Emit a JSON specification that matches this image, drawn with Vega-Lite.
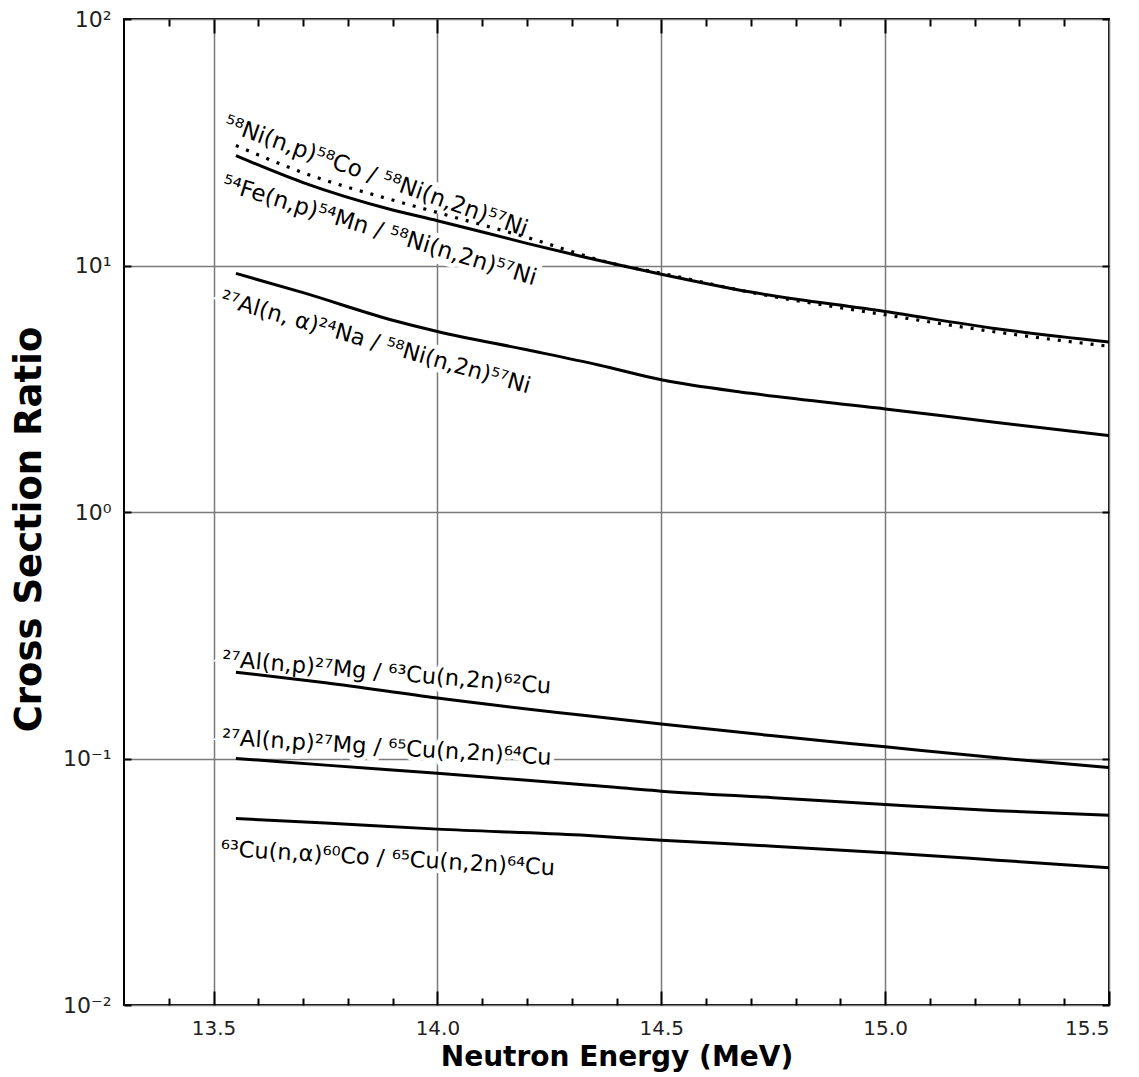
{
  "$schema": "https://vega.github.io/schema/vega-lite/v6.json",
  "autosize": "none",
  "width": 985,
  "height": 986,
  "padding": {"left": 124, "top": 19, "right": 30, "bottom": 72},
  "background": "white",
  "config": {
    "view": {"stroke": "black", "strokeWidth": 2},
    "font": "DejaVu Sans",
    "axis": {"labelFont": "DejaVu Sans", "titleFont": "DejaVu Sans", "labelColor": "#222", "titleColor": "black"}
  },
  "datasets": {
    "curves": [
      {"series": "fe", "energy": 13.55, "ratio": 27.9},
      {"series": "fe", "energy": 13.7, "ratio": 21.7},
      {"series": "fe", "energy": 13.9, "ratio": 16.8},
      {"series": "fe", "energy": 14.0, "ratio": 15.2},
      {"series": "fe", "energy": 14.2, "ratio": 12.3},
      {"series": "fe", "energy": 14.32, "ratio": 10.9},
      {"series": "fe", "energy": 14.5, "ratio": 9.22},
      {"series": "fe", "energy": 14.7, "ratio": 7.8},
      {"series": "fe", "energy": 15.0, "ratio": 6.51},
      {"series": "fe", "energy": 15.24, "ratio": 5.57},
      {"series": "fe", "energy": 15.5, "ratio": 4.89},
      {"series": "ni", "energy": 13.55, "ratio": 30.7},
      {"series": "ni", "energy": 13.7, "ratio": 23.8},
      {"series": "ni", "energy": 13.92, "ratio": 18.0},
      {"series": "ni", "energy": 14.0, "ratio": 16.4},
      {"series": "ni", "energy": 14.2, "ratio": 13.0},
      {"series": "ni", "energy": 14.4, "ratio": 10.1},
      {"series": "ni", "energy": 14.5, "ratio": 9.3},
      {"series": "ni", "energy": 14.7, "ratio": 7.78},
      {"series": "ni", "energy": 15.0, "ratio": 6.31},
      {"series": "ni", "energy": 15.24, "ratio": 5.4},
      {"series": "ni", "energy": 15.5, "ratio": 4.7},
      {"series": "alna", "energy": 13.55, "ratio": 9.29},
      {"series": "alna", "energy": 13.7, "ratio": 7.76},
      {"series": "alna", "energy": 13.9, "ratio": 6.0},
      {"series": "alna", "energy": 14.0, "ratio": 5.4},
      {"series": "alna", "energy": 14.2, "ratio": 4.55},
      {"series": "alna", "energy": 14.36, "ratio": 3.95},
      {"series": "alna", "energy": 14.5, "ratio": 3.44},
      {"series": "alna", "energy": 14.7, "ratio": 3.03},
      {"series": "alna", "energy": 15.0, "ratio": 2.62},
      {"series": "alna", "energy": 15.24, "ratio": 2.32},
      {"series": "alna", "energy": 15.5, "ratio": 2.04},
      {"series": "cu62", "energy": 13.55, "ratio": 0.224},
      {"series": "cu62", "energy": 13.75, "ratio": 0.203},
      {"series": "cu62", "energy": 14.0, "ratio": 0.176},
      {"series": "cu62", "energy": 14.32, "ratio": 0.15},
      {"series": "cu62", "energy": 14.5, "ratio": 0.138},
      {"series": "cu62", "energy": 14.75, "ratio": 0.1236},
      {"series": "cu62", "energy": 15.0, "ratio": 0.1115},
      {"series": "cu62", "energy": 15.25, "ratio": 0.1006},
      {"series": "cu62", "energy": 15.5, "ratio": 0.092},
      {"series": "cu64", "energy": 13.55, "ratio": 0.1},
      {"series": "cu64", "energy": 13.75, "ratio": 0.094},
      {"series": "cu64", "energy": 14.0, "ratio": 0.0871},
      {"series": "cu64", "energy": 14.32, "ratio": 0.0785},
      {"series": "cu64", "energy": 14.5, "ratio": 0.0737},
      {"series": "cu64", "energy": 14.75, "ratio": 0.0693},
      {"series": "cu64", "energy": 15.0, "ratio": 0.0651},
      {"series": "cu64", "energy": 15.25, "ratio": 0.0614},
      {"series": "cu64", "energy": 15.5, "ratio": 0.0589},
      {"series": "cuco", "energy": 13.55, "ratio": 0.0571},
      {"series": "cuco", "energy": 13.75, "ratio": 0.0547},
      {"series": "cuco", "energy": 14.0, "ratio": 0.0517},
      {"series": "cuco", "energy": 14.32, "ratio": 0.0489},
      {"series": "cuco", "energy": 14.5, "ratio": 0.0466},
      {"series": "cuco", "energy": 14.75, "ratio": 0.0441},
      {"series": "cuco", "energy": 15.0, "ratio": 0.0415},
      {"series": "cuco", "energy": 15.25, "ratio": 0.0387},
      {"series": "cuco", "energy": 15.5, "ratio": 0.036}
    ],
    "labels": [
      {"id": "L1", "text": "⁵⁸Ni(n,p)⁵⁸Co / ⁵⁸Ni(n,2n)⁵⁷Ni", "energy": 13.52, "ratio": 35.6},
      {"id": "L2", "text": "⁵⁴Fe(n,p)⁵⁴Mn / ⁵⁸Ni(n,2n)⁵⁷Ni", "energy": 13.516, "ratio": 20.3},
      {"id": "L3", "text": "²⁷Al(n, α)²⁴Na / ⁵⁸Ni(n,2n)⁵⁷Ni", "energy": 13.513, "ratio": 6.91},
      {"id": "L4", "text": "²⁷Al(n,p)²⁷Mg / ⁶³Cu(n,2n)⁶²Cu", "energy": 13.518, "ratio": 0.237},
      {"id": "L5", "text": "²⁷Al(n,p)²⁷Mg / ⁶⁵Cu(n,2n)⁶⁴Cu", "energy": 13.518, "ratio": 0.1138},
      {"id": "L6", "text": "⁶³Cu(n,α)⁶⁰Co / ⁶⁵Cu(n,2n)⁶⁴Cu", "energy": 13.515, "ratio": 0.0402}
    ]
  },
  "layer": [
    {
      "data": {"name": "labels"},
      "transform": [{"filter": "datum.id == 'L1'"}],
      "mark": {"type": "text", "align": "left", "baseline": "alphabetic", "angle": 19.5, "fontSize": 23, "font": "DejaVu Sans", "color": "white", "stroke": "white", "strokeWidth": 9},
      "encoding": {
        "x": {"field": "energy", "type": "quantitative", "scale": {"domain": [13.3, 15.5], "nice": false, "zero": false},
          "axis": {"orient": "top", "values": [13.4,13.5,13.6,13.7,13.8,13.9,14.0,14.1,14.2,14.3,14.4,14.5,14.6,14.7,14.8,14.9,15.0,15.1,15.2,15.3,15.4],
            "labels": false, "title": null, "grid": false, "domain": false, "tickColor": "black", "tickWidth": 2,
            "tickSize": {"condition": {"test": "abs(datum.value*2 - round(datum.value*2)) < 0.01", "value": -14}, "value": -7}}},
        "y": {"field": "ratio", "type": "quantitative", "scale": {"type": "log", "domain": [0.01, 100], "nice": false},
          "axis": {"orient": "right", "values": [0.01, 0.1, 1, 10, 100], "labels": false, "title": null, "grid": false, "domain": false, "tickColor": "black", "tickWidth": 2, "tickSize": -7}},
        "text": {"field": "text"}
      }
    },
    {
      "data": {"name": "labels"},
      "transform": [{"filter": "datum.id == 'L2'"}],
      "mark": {"type": "text", "align": "left", "baseline": "alphabetic", "angle": 17, "fontSize": 23, "font": "DejaVu Sans", "color": "white", "stroke": "white", "strokeWidth": 9},
      "encoding": {"x": {"field": "energy", "type": "quantitative", "axis": null}, "y": {"field": "ratio", "type": "quantitative", "axis": null}, "text": {"field": "text"}}
    },
    {
      "data": {"name": "labels"},
      "transform": [{"filter": "datum.id == 'L3'"}],
      "mark": {"type": "text", "align": "left", "baseline": "alphabetic", "angle": 16, "fontSize": 22.5, "font": "DejaVu Sans", "color": "white", "stroke": "white", "strokeWidth": 9},
      "encoding": {"x": {"field": "energy", "type": "quantitative", "axis": null}, "y": {"field": "ratio", "type": "quantitative", "axis": null}, "text": {"field": "text"}}
    },
    {
      "data": {"name": "labels"},
      "transform": [{"filter": "datum.id == 'L4'"}],
      "mark": {"type": "text", "align": "left", "baseline": "alphabetic", "angle": 4.8, "fontSize": 22.5, "font": "DejaVu Sans", "color": "white", "stroke": "white", "strokeWidth": 9},
      "encoding": {"x": {"field": "energy", "type": "quantitative", "axis": null}, "y": {"field": "ratio", "type": "quantitative", "axis": null}, "text": {"field": "text"}}
    },
    {
      "data": {"name": "labels"},
      "transform": [{"filter": "datum.id == 'L5'"}],
      "mark": {"type": "text", "align": "left", "baseline": "alphabetic", "angle": 3.5, "fontSize": 22.5, "font": "DejaVu Sans", "color": "white", "stroke": "white", "strokeWidth": 9},
      "encoding": {"x": {"field": "energy", "type": "quantitative", "axis": null}, "y": {"field": "ratio", "type": "quantitative", "axis": null}, "text": {"field": "text"}}
    },
    {
      "data": {"name": "labels"},
      "transform": [{"filter": "datum.id == 'L6'"}],
      "mark": {"type": "text", "align": "left", "baseline": "alphabetic", "angle": 3.3, "fontSize": 22.5, "font": "DejaVu Sans", "color": "white", "stroke": "white", "strokeWidth": 9},
      "encoding": {"x": {"field": "energy", "type": "quantitative", "axis": null}, "y": {"field": "ratio", "type": "quantitative", "axis": null}, "text": {"field": "text"}}
    },
    {
      "data": {"name": "curves"},
      "transform": [{"filter": "datum.series != 'ni'"}],
      "mark": {"type": "line", "color": "black", "strokeWidth": 3, "interpolate": "monotone"},
      "encoding": {
        "x": {"field": "energy", "type": "quantitative",
          "axis": {"orient": "bottom", "values": [13.4,13.5,13.6,13.7,13.8,13.9,14.0,14.1,14.2,14.3,14.4,14.5,14.6,14.7,14.8,14.9,15.0,15.1,15.2,15.3,15.4,15.5],
            "labelExpr": "abs(datum.value*2 - round(datum.value*2)) < 0.01 ? format(datum.value, '.1f') : ''",
            "labelFontSize": 20, "labelPadding": 27, "labelFont": "DejaVu Sans",
            "title": "Neutron Energy (MeV)", "titleFontSize": 28, "titleFontWeight": "bold", "titlePadding": 5,
            "domain": false, "tickColor": "black", "tickWidth": 2,
            "tickSize": {"condition": {"test": "abs(datum.value*2 - round(datum.value*2)) < 0.01", "value": -14}, "value": -7},
            "grid": true, "gridColor": "#7a7a7a", "gridWidth": 1.5,
            "gridOpacity": {"condition": {"test": "abs(datum.value*2 - round(datum.value*2)) < 0.01", "value": 1}, "value": 0}}},
        "y": {"field": "ratio", "type": "quantitative",
          "axis": {"orient": "left", "values": [0.01, 0.1, 1, 10, 100],
            "labelExpr": "datum.value >= 99 ? '10²' : datum.value >= 9 ? '10¹' : datum.value >= 0.9 ? '10⁰' : datum.value >= 0.09 ? '10⁻¹' : '10⁻²'",
            "labelFontSize": 22, "labelPadding": 20, "labelFont": "DejaVu Sans",
            "title": "Cross Section Ratio", "titleFontSize": 37, "titleFontWeight": "bold", "titleX": -95, "titleY": 510, "titleBaseline": "middle", "titleAlign": "center",
            "domain": false, "tickColor": "black", "tickWidth": 2, "tickSize": -7,
            "grid": true, "gridColor": "#7a7a7a", "gridWidth": 1.5}},
        "detail": {"field": "series"}
      }
    },
    {
      "data": {"name": "curves"},
      "transform": [{"filter": "datum.series == 'ni'"}],
      "mark": {"type": "line", "color": "black", "strokeWidth": 3.2, "strokeDash": [3, 8], "interpolate": "monotone"},
      "encoding": {"x": {"field": "energy", "type": "quantitative", "axis": null}, "y": {"field": "ratio", "type": "quantitative", "axis": null}}
    },
    {
      "data": {"name": "labels"},
      "transform": [{"filter": "datum.id == 'L1'"}],
      "mark": {"type": "text", "align": "left", "baseline": "alphabetic", "angle": 19.5, "fontSize": 23, "font": "DejaVu Sans", "color": "black"},
      "encoding": {"x": {"field": "energy", "type": "quantitative", "axis": null}, "y": {"field": "ratio", "type": "quantitative", "axis": null}, "text": {"field": "text"}}
    },
    {
      "data": {"name": "labels"},
      "transform": [{"filter": "datum.id == 'L2'"}],
      "mark": {"type": "text", "align": "left", "baseline": "alphabetic", "angle": 17, "fontSize": 23, "font": "DejaVu Sans", "color": "black"},
      "encoding": {"x": {"field": "energy", "type": "quantitative", "axis": null}, "y": {"field": "ratio", "type": "quantitative", "axis": null}, "text": {"field": "text"}}
    },
    {
      "data": {"name": "labels"},
      "transform": [{"filter": "datum.id == 'L3'"}],
      "mark": {"type": "text", "align": "left", "baseline": "alphabetic", "angle": 16, "fontSize": 22.5, "font": "DejaVu Sans", "color": "black"},
      "encoding": {"x": {"field": "energy", "type": "quantitative", "axis": null}, "y": {"field": "ratio", "type": "quantitative", "axis": null}, "text": {"field": "text"}}
    },
    {
      "data": {"name": "labels"},
      "transform": [{"filter": "datum.id == 'L4'"}],
      "mark": {"type": "text", "align": "left", "baseline": "alphabetic", "angle": 4.8, "fontSize": 22.5, "font": "DejaVu Sans", "color": "black"},
      "encoding": {"x": {"field": "energy", "type": "quantitative", "axis": null}, "y": {"field": "ratio", "type": "quantitative", "axis": null}, "text": {"field": "text"}}
    },
    {
      "data": {"name": "labels"},
      "transform": [{"filter": "datum.id == 'L5'"}],
      "mark": {"type": "text", "align": "left", "baseline": "alphabetic", "angle": 3.5, "fontSize": 22.5, "font": "DejaVu Sans", "color": "black"},
      "encoding": {"x": {"field": "energy", "type": "quantitative", "axis": null}, "y": {"field": "ratio", "type": "quantitative", "axis": null}, "text": {"field": "text"}}
    },
    {
      "data": {"name": "labels"},
      "transform": [{"filter": "datum.id == 'L6'"}],
      "mark": {"type": "text", "align": "left", "baseline": "alphabetic", "angle": 3.3, "fontSize": 22.5, "font": "DejaVu Sans", "color": "black"},
      "encoding": {"x": {"field": "energy", "type": "quantitative", "axis": null}, "y": {"field": "ratio", "type": "quantitative", "axis": null}, "text": {"field": "text"}}
    }
  ],
  "resolve": {"axis": {"x": "independent", "y": "independent"}}
}
